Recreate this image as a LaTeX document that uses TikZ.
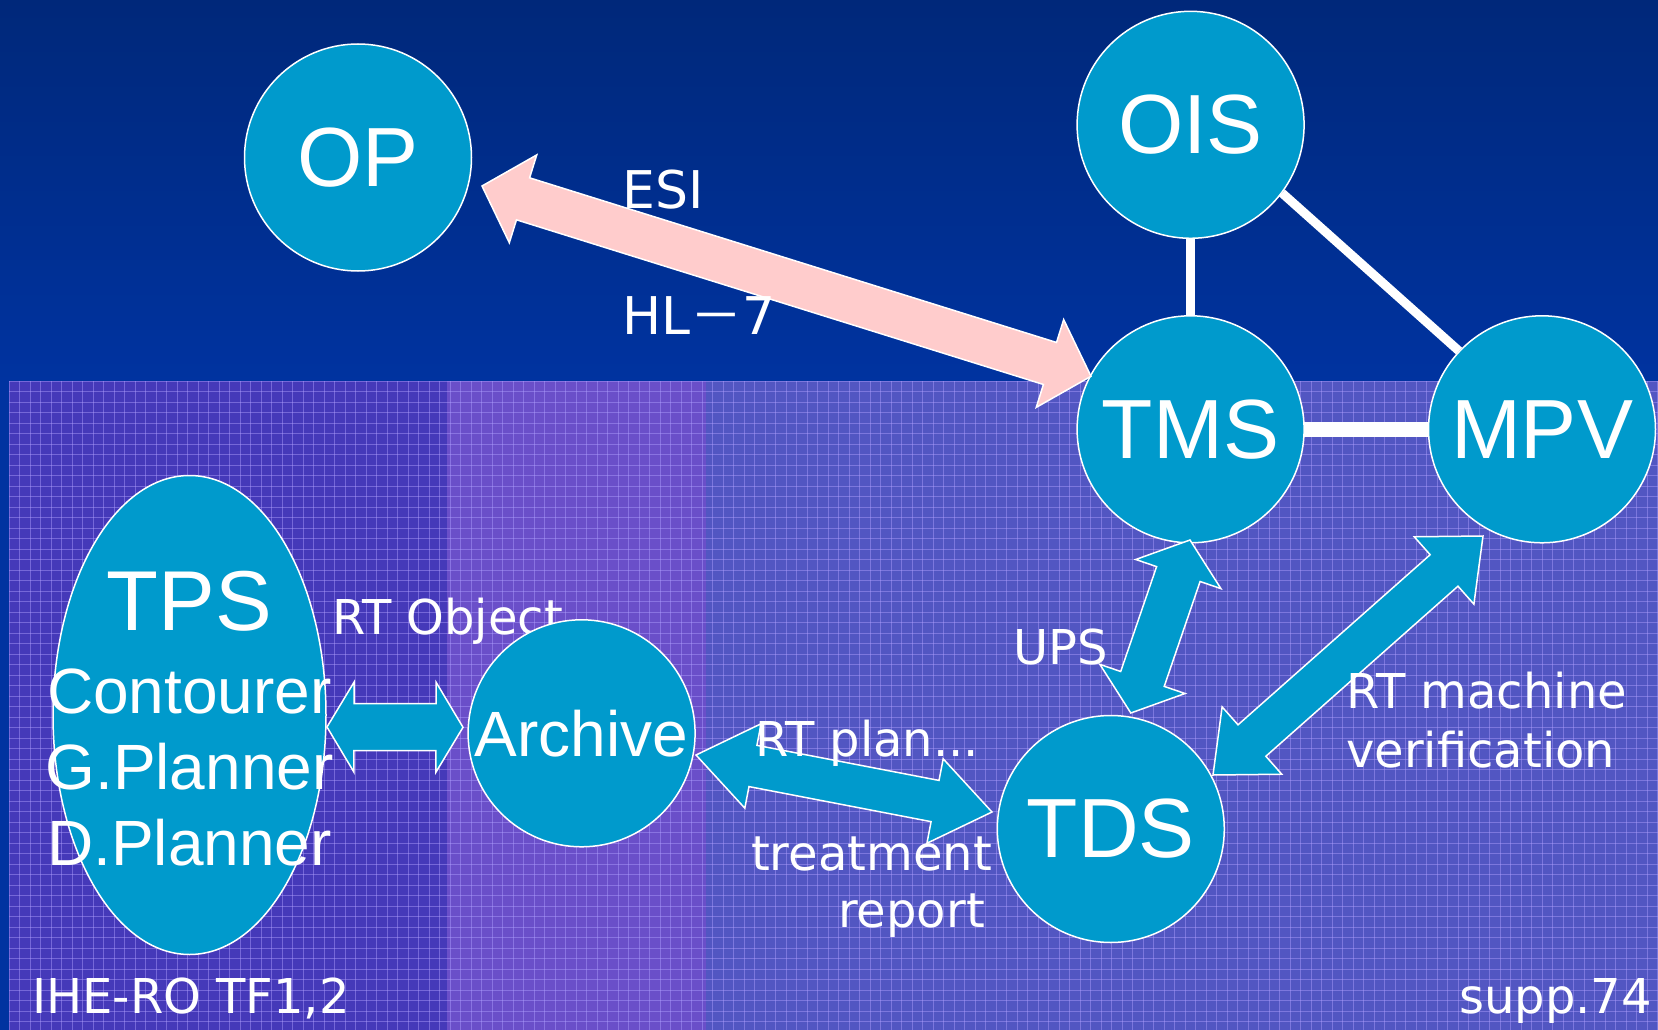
\documentclass[tikz,border=0pt]{standalone}
\usepackage{fontspec}
\setmainfont{Liberation Sans}
\newfontfamily\lblfont{DejaVu Sans}
\newfontfamily\cjkfont{Noto Sans CJK JP}
\usetikzlibrary{calc,shapes.geometric}
\definecolor{nodecyan}{HTML}{009ACC}
\definecolor{pinkfill}{HTML}{FFCCCC}
\definecolor{topdark}{HTML}{00287A}
\definecolor{topblue}{HTML}{0033A0}
\definecolor{panelA}{HTML}{4539B9}
\definecolor{panelB}{HTML}{6A4FC9}
\definecolor{panelC}{HTML}{5256C2}
\definecolor{gridcol}{HTML}{B0A0FF}
\newcommand\bkarrow[6]{%
  \path (#1) coordinate (ba1) (#2) coordinate (ba2);
  \coordinate (bh1) at ($(ba1)!#5!(ba2)$);
  \coordinate (bh2) at ($(ba2)!#5!(ba1)$);
  \draw[#6] (ba1) -- ($(bh1)!#4!90:(ba2)$) -- ($(bh1)!#3!90:(ba2)$)
    -- ($(bh2)!#3!-90:(ba1)$) -- ($(bh2)!#4!-90:(ba1)$) -- (ba2)
    -- ($(bh2)!#4!90:(ba1)$) -- ($(bh2)!#3!90:(ba1)$)
    -- ($(bh1)!#3!-90:(ba2)$) -- ($(bh1)!#4!-90:(ba2)$) -- cycle;
}
\begin{document}
\begin{tikzpicture}[x=1pt,y=-1pt,
  bubble/.style={circle, fill=nodecyan, draw=white, line width=1.5pt,
    minimum size=227pt, inner sep=0pt, text=white,
    font=\fontsize{84}{100}\selectfont},
  lbl/.style={font=\lblfont\fontsize{48}{58}\selectfont, text=white, inner sep=0pt},
  biglbl/.style={font=\lblfont\fontsize{52}{62}\selectfont, text=white, inner sep=0pt},
  wline/.style={draw=white, line width=9pt},
  cyanarrow/.style={fill=nodecyan, draw=white, line width=1.5pt, line join=miter},
  pinkarrow/.style={fill=pinkfill, draw=white, line width=1.5pt, line join=miter},
  gridline/.style={draw=gridcol, line width=0.9pt, opacity=0.45}]
\useasboundingbox (0,0) rectangle (1658,1030);
% background
\shade[top color=topdark, bottom color=topblue] (0,0) rectangle (1658,381);
\fill[topblue] (0,381) rectangle (1658,1030);
\fill[panelA] (9,381) rectangle (447,1030);
\fill[panelB] (447,381) rectangle (706,1030);
\fill[panelC] (706,381) rectangle (1658,1030);
\foreach \gx in {9,19.5,...,1658} \draw[gridline] (\gx,381) -- (\gx,1030);
\foreach \gy in {381,391.5,...,1030} \draw[gridline] (9,\gy) -- (1658,\gy);
% node positions
\coordinate (pOP) at (358,157.5);
\coordinate (pOIS) at (1190.6,124.8);
\coordinate (pTMS) at (1190.6,429.3);
\coordinate (pMPV) at (1542,429.3);
\coordinate (pTDS) at (1110.8,829);
\coordinate (pARC) at (581.6,733.3);
\coordinate (pTPS) at (189.5,715);
% label under Archive
\node[lbl, anchor=base west] (lRTO) at (332,634) {RT Object};
% plain lines
\draw[wline] (pOIS) -- (pTMS);
\draw[wline] ($(pOIS)+(91.4,68.2)$) -- ($(pMPV)+(-83,-78.3)$);
\draw[draw=white, line width=15pt] (pTMS) -- (pMPV);
% nodes
\node[bubble] (OP) at (pOP) {OP};
\node[bubble] (OIS) at (pOIS) {OIS};
\node[bubble] (TMS) at (pTMS) {TMS};
\node[bubble] (MPV) at (pMPV) {MPV};
\node[bubble] (TDS) at (pTDS) {TDS};
\node[bubble, font=\fontsize{64}{76}\selectfont] (ARC) at (pARC) {Archive};
\node[ellipse, fill=nodecyan, draw=white, line width=1.5pt, minimum width=273pt,
  minimum height=479pt, inner sep=0pt] (TPS) at (pTPS) {};
\node[text=white, align=center, inner sep=0pt,
  font=\fontsize{64}{76}\selectfont] (TPStext) at ($(TPS)+(0,4)$)
  {{\fontsize{85}{90}\selectfont TPS}\\[7pt]Contourer\\G.Planner\\D.Planner};
% arrow end points
\coordinate (esiA) at ($(OP)+(124,28.5)$);
\coordinate (esiB) at ($(TMS)+(-99.6,-53)$);
\coordinate (roA) at ($(TPS)+(137.5,12)$);
\coordinate (roB) at ($(ARC)+(-118.6,-6)$);
\coordinate (rpA) at ($(ARC)+(114.4,21.7)$);
\coordinate (rpB) at ($(TDS)+(-118.8,-17)$);
\coordinate (upsA) at ($(TMS)+(-0.6,110.7)$);
\coordinate (upsB) at ($(TDS)+(20,-116)$);
\coordinate (mvA) at ($(MPV)+(-59,106.7)$);
\coordinate (mvB) at ($(TDS)+(102.2,-54)$);
% block arrows
\bkarrow{esiA}{esiB}{22pt}{46pt}{43pt}{pinkarrow}
\bkarrow{roA}{roB}{23.5pt}{45pt}{27pt}{cyanarrow}
\bkarrow{rpA}{rpB}{21pt}{43pt}{58pt}{cyanarrow}
\bkarrow{upsA}{upsB}{23pt}{45pt}{36pt}{cyanarrow}
\bkarrow{mvA}{mvB}{21pt}{45pt}{52pt}{cyanarrow}
% labels
\node[biglbl, anchor=base west] (lESI) at (622,208) {ESI};
\node[biglbl, anchor=base west] (lHL) at (622,334) {HL{\cjkfont －}7};
\node[lbl, anchor=base west] (lUPS) at (1013,664) {UPS};
\node[lbl, anchor=base west] (lRTM1) at (1346,708) {RT machine};
\node[lbl, anchor=base west] (lRTM2) at (1346,767) {verification};
\node[lbl, anchor=base west] (lRTP) at (755,756) {RT plan...};
\node[lbl, anchor=base east] (lTR1) at (992,870) {treatment};
\node[lbl, anchor=base east] (lTR2) at (985,927) {report};
\node[lbl, anchor=base west] (lIHE) at (32,1013) {IHE-RO TF1,2};
\node[lbl, anchor=base east] (lSUP) at (1652,1013) {supp.74};
\end{tikzpicture}
\end{document}
